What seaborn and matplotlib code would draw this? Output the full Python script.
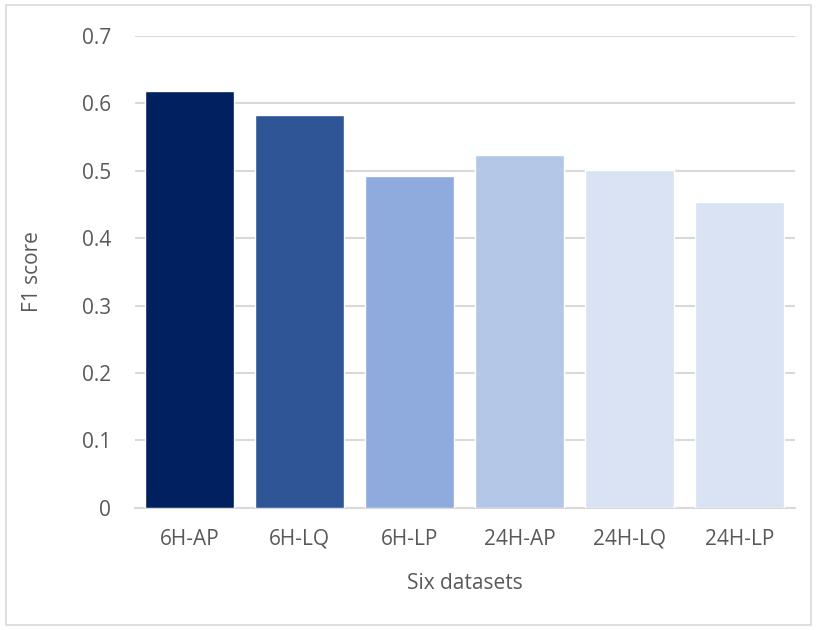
import pandas as pd
import matplotlib.pyplot as plt
import seaborn as sns
from matplotlib.patches import Rectangle

# Values
datasets = ['6H-AP', '6H-LQ', '6H-LP', '24H-AP', '24H-LQ', '24H-LP']
f1_scores = [0.618, 0.583, 0.492, 0.524, 0.501, 0.453]
bar_colors = ['#002060', '#2F5597', '#8FAADC', '#B4C7E7', '#DAE3F3', '#DAE3F3']
y_ticks = [0, 0.1, 0.2, 0.3, 0.4, 0.5, 0.6, 0.7]
y_tick_labels = ['0', '0.1', '0.2', '0.3', '0.4', '0.5', '0.6', '0.7']

df = pd.DataFrame({'dataset': datasets, 'f1': f1_scores})

sns.set_style('white')
plt.rcParams['font.family'] = ['Open Sans', 'DejaVu Sans']
text_color = '#595959'
grid_color = '#D9D9D9'

fig = plt.figure(figsize=(8.17, 6.3), dpi=100)
ax = fig.add_axes([0.165, 0.194, 0.808, 0.749])

sns.barplot(data=df, x='dataset', y='f1', hue='dataset', palette=bar_colors,
            legend=False, width=0.81, saturation=1, ax=ax, zorder=3)

ax.set_ylim(0, 0.7)
ax.set_xlim(-0.5, len(datasets) - 0.5)
ax.set_yticks(y_ticks)
ax.set_yticklabels(y_tick_labels)

# Excel-style horizontal gridlines
ax.grid(True, axis='y', color=grid_color, linewidth=1.5, zorder=0)
ax.grid(False, axis='x')
for side in ['top', 'right', 'left']:
    ax.spines[side].set_visible(False)
ax.spines['bottom'].set_color(grid_color)
ax.spines['bottom'].set_linewidth(1.5)

ax.tick_params(axis='both', length=0, labelsize=15, colors=text_color)
ax.tick_params(axis='y', pad=17)
ax.tick_params(axis='x', pad=15)

ax.set_xlabel('Six datasets', fontsize=15, color=text_color, labelpad=17)
ax.set_ylabel('F1 score', fontsize=15, color=text_color, labelpad=28)

# Light outer chart border
fig.patches.append(Rectangle((0.007, 0.008), 0.986, 0.984, transform=fig.transFigure,
                             fill=False, edgecolor='#D9D9D9', linewidth=1.2))

fig.savefig('out.png', dpi=100)
